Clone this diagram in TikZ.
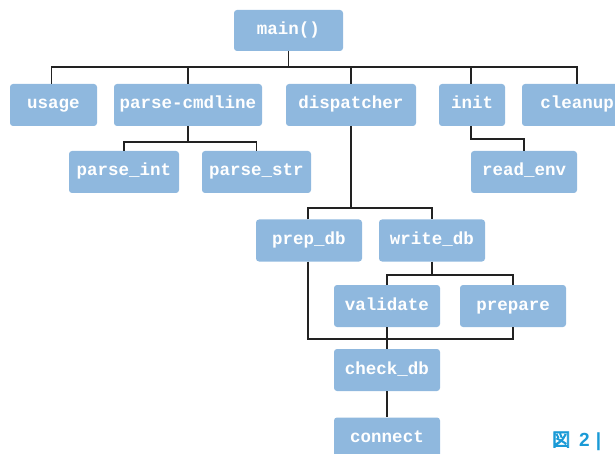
\documentclass[tikz,border=0pt]{standalone}
\usepackage{fontspec}
\setmonofont{Liberation Mono}
\newfontfamily\cjk[AutoFakeBold=4]{Noto Sans CJK JP}
\newfontfamily\capsans{Liberation Sans}
\definecolor{boxblue}{HTML}{8FB8DE}
\definecolor{capblue}{HTML}{1A9AD6}
\definecolor{linec}{HTML}{222222}
\tikzset{
  fn/.style={fill=boxblue, draw=none, rounded corners=3pt, text=white,
    font=\ttfamily\bfseries\fontsize{17.5}{19}\selectfont,
    text height=11pt, text depth=3pt,
    minimum height=42pt, inner sep=0pt, anchor=center},
  conn/.style={draw=linec, line width=1.2pt}
}
\begin{document}
\begin{tikzpicture}[x=1pt,y=-1pt]
\useasboundingbox (0,0) rectangle (615,454);
\clip (0,0) rectangle (615,454);
% nodes
\node[fn, minimum width=109pt, minimum height=41pt] (main) at (288.5,30.5) {main()};
\node[fn, minimum width=87pt]  (usage) at (53.5,105) {usage};
\node[fn, minimum width=148pt] (pcl) at (188,105) {parse-cmdline};
\node[fn, minimum width=130pt] (disp) at (351,105) {dispatcher};
\node[fn, minimum width=66pt]  (init) at (472,105) {init};
\node[fn, minimum width=110pt] (cleanup) at (577,105) {cleanup};
\node[fn, minimum width=110pt] (pint) at (124,172) {parse\_int};
\node[fn, minimum width=109pt] (pstr) at (256.5,172) {parse\_str};
\node[fn, minimum width=106pt] (renv) at (524,172) {read\_env};
\node[fn, minimum width=106pt] (prep) at (309,240.5) {prep\_db};
\node[fn, minimum width=106pt] (write) at (432,240.5) {write\_db};
\node[fn, minimum width=106pt] (valid) at (387,306) {validate};
\node[fn, minimum width=106pt] (prepare) at (513,306) {prepare};
\node[fn, minimum width=106pt] (check) at (387,370) {check\_db};
\node[fn, minimum width=106pt] (connect) at (387,438.5) {connect};
% bar coordinates
\coordinate (b1) at (0,67);
\coordinate (b2) at (0,142);
\coordinate (b3) at (0,139);
\coordinate (b4) at (0,208);
\coordinate (b5) at (0,275);
\coordinate (b6) at (0,339);
% connectors
\draw[conn] (main.south) -- (main.south|-b1);
\draw[conn] ([xshift=-2pt]usage.north) -- ([xshift=-2pt]usage.north|-b1) -- (cleanup.north|-b1) -- (cleanup.north);
\draw[conn] (pcl.north) -- (pcl.north|-b1);
\draw[conn] (disp.north) -- (disp.north|-b1);
\draw[conn] ([xshift=-1pt]init.north) -- ([xshift=-1pt]init.north|-b1);
\draw[conn] (pcl.south) -- (pcl.south|-b2);
\draw[conn] (pint.north) -- (pint.north|-b2) -- (pstr.north|-b2) -- (pstr.north);
\draw[conn] ([xshift=-1pt]init.south) -- ([xshift=-1pt]init.south|-b3) -- (renv.north|-b3) -- (renv.north);
\draw[conn] (disp.south) -- (disp.south|-b4);
\draw[conn] ([xshift=-1pt]prep.north) -- ([xshift=-1pt]prep.north|-b4) -- (write.north|-b4) -- (write.north);
\draw[conn] (write.south) -- (write.south|-b5);
\draw[conn] (valid.north) -- (valid.north|-b5) -- (prepare.north|-b5) -- (prepare.north);
\draw[conn] ([xshift=-1pt]prep.south) -- ([xshift=-1pt]prep.south|-b6) -- (prepare.south|-b6) -- (prepare.south);
\draw[conn] (valid.south) -- (check.north);
\draw[conn] (check.south) -- (connect.north);
% caption
\node[anchor=base west, inner sep=0pt, text=capblue] (cap) at (552,446)
  {{\cjk\bfseries\fontsize{18}{20}\selectfont 図}\hspace{9pt}{\capsans\bfseries\fontsize{19}{22}\selectfont 2\hspace{6pt}|}};
\end{tikzpicture}
\end{document}
